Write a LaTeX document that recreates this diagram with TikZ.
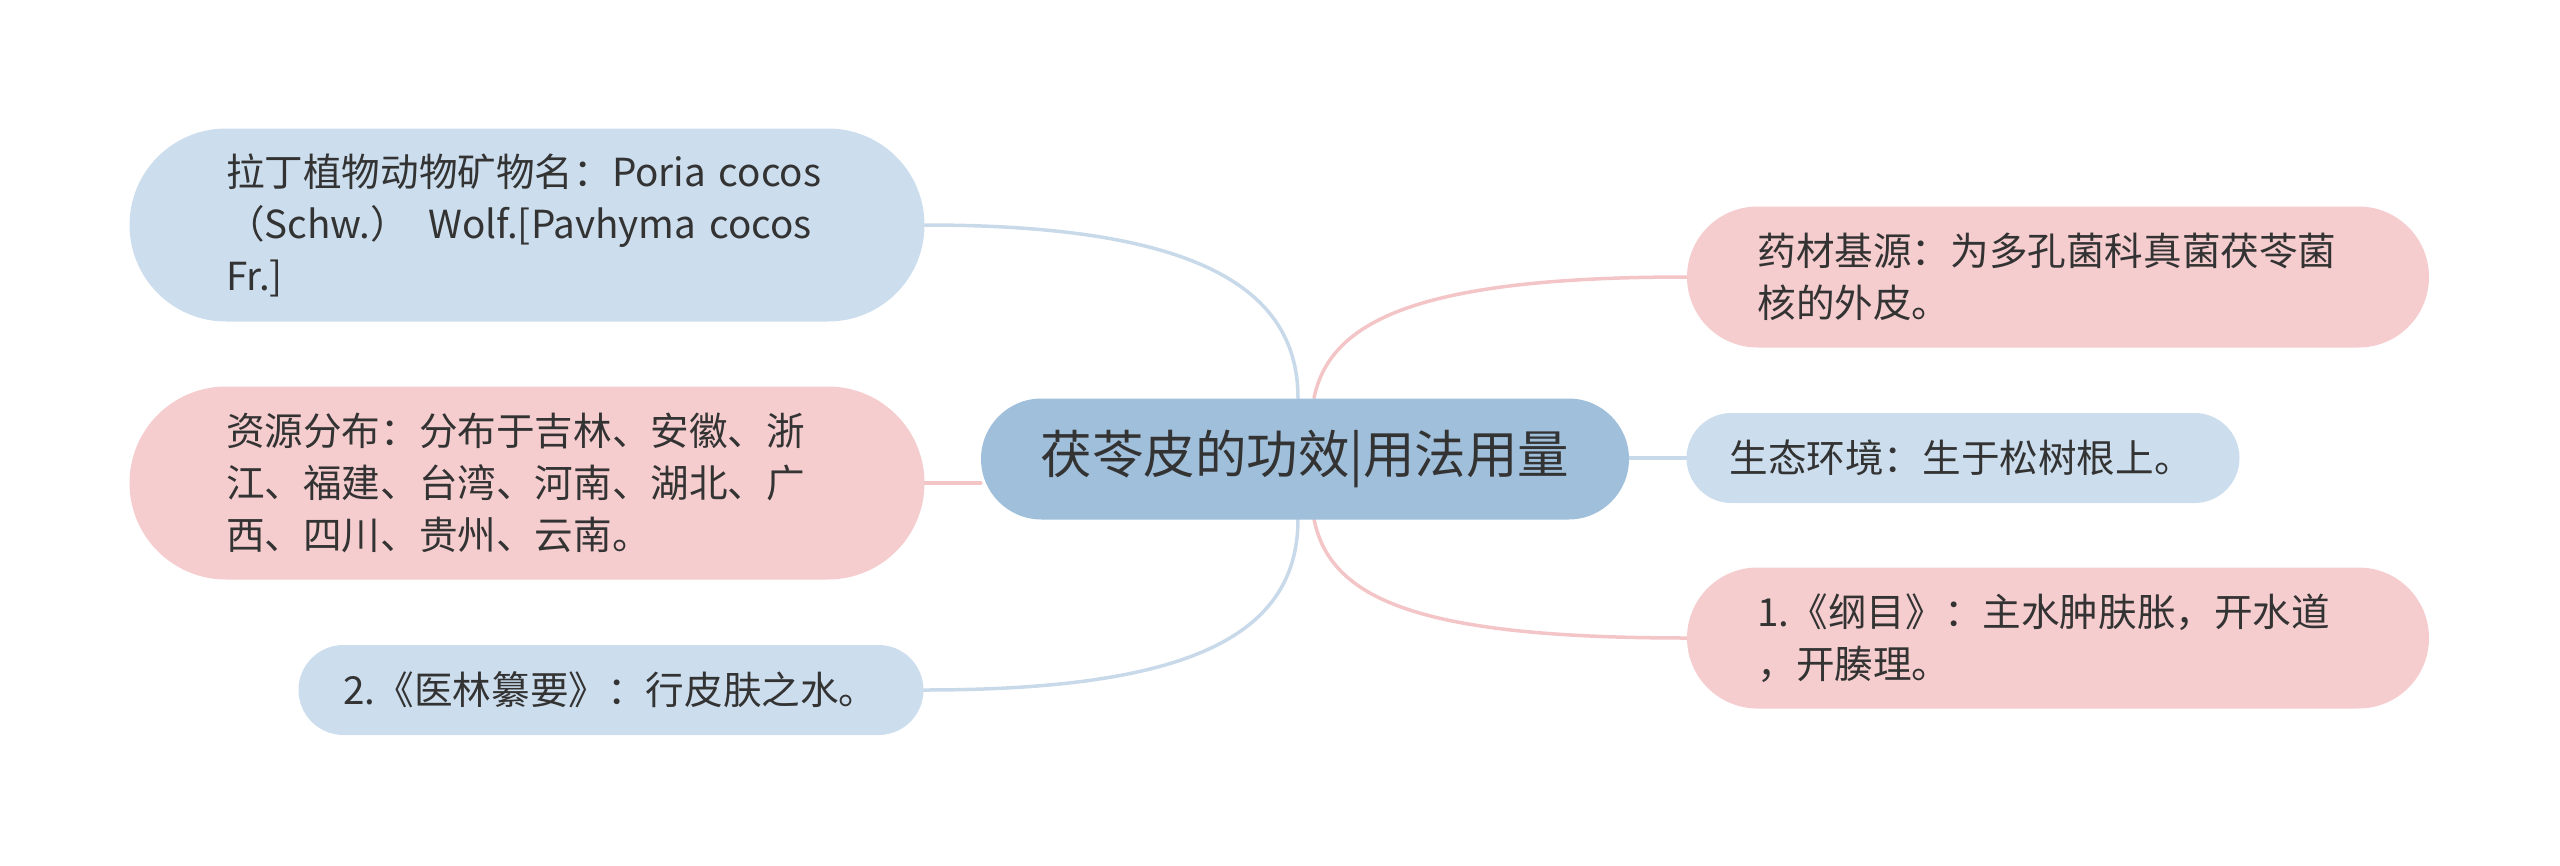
\documentclass[tikz,border=0pt]{standalone}
\usepackage{fontspec}
\setmainfont{Noto Sans CJK SC}
\usetikzlibrary{backgrounds}
\definecolor{bluefill}{HTML}{CCDDED}
\definecolor{pinkfill}{HTML}{F5CDCF}
\definecolor{centerfill}{HTML}{A0BFDB}
\definecolor{blueline}{HTML}{C8D9EA}
\definecolor{pinkline}{HTML}{F3C5C7}
\definecolor{txt}{HTML}{333333}
\tikzset{
  leaf/.style={text=txt, align=left, inner ysep=0pt, font=\fontsize{38.6}{52}\selectfont},
  bluebox/.style={leaf, fill=bluefill},
  pinkbox/.style={leaf, fill=pinkfill},
  conn/.style={line width=3.5pt, line cap=round},
}
\begin{document}
\begin{tikzpicture}[x=1pt,y=-1pt]
\useasboundingbox (0,0) rectangle (2560,865);
% center
\node[fill=centerfill, text=txt, rounded corners=60.5pt, minimum width=648pt, minimum height=121pt, inner sep=0pt,
  font=\fontsize{51.5}{60}\selectfont] (c) at (1305,459) {茯苓皮的功效|用法用量};
% left nodes
\node[bluebox, rounded corners=96.5pt, text width=602pt, inner xsep=96.5pt, minimum height=193pt] (lat) at (527,225)
  {拉丁植物动物矿物名：Poria cocos\\（Schw.） Wolf.[Pavhyma cocos\\Fr.]};
\node[pinkbox, rounded corners=96.5pt, text width=602pt, inner xsep=96.5pt, minimum height=193pt] (res) at (527,483)
  {资源分布：分布于吉林、安徽、浙\\江、福建、台湾、河南、湖北、广\\西、四川、贵州、云南。};
\node[bluebox, rounded corners=45pt, text width=535pt, inner xsep=45pt, minimum height=90pt] (yl) at (611,690)
  {2.《医林纂要》：行皮肤之水。};
% right nodes
\node[pinkbox, rounded corners=70.5pt, text width=601pt, inner xsep=70.5pt, minimum height=141pt] (yc) at (2058,277)
  {药材基源：为多孔菌科真菌茯苓菌\\核的外皮。};
\node[bluebox, rounded corners=45pt, text width=467pt, inner xsep=43pt, minimum height=90pt] (st) at (1963,458)
  {生态环境：生于松树根上。};
\node[pinkbox, rounded corners=70.5pt, text width=601pt, inner xsep=70.5pt, minimum height=141pt] (gm) at (2058,638)
  {1.《纲目》：主水肿肤胀，开水道\\，开腠理。};
% connectors
\begin{scope}[on background layer]
\coordinate (ctl) at (1298,398);
\coordinate (cbl) at (1298,519);
\coordinate (ctr) at (1314,398);
\coordinate (cbr) at (1314,519);
\draw[conn, blueline] (lat.east) .. controls (1180,225) and (1298,280) .. (ctl);
\draw[conn, pinkline] (res.east) -- (res.east -| c.west);
\draw[conn, blueline] (yl.east) .. controls (1180,690) and (1298,640) .. (cbl);
\draw[conn, pinkline] (ctr) .. controls (1330,320) and (1420,277) .. (yc.west);
\draw[conn, blueline] (c.east |- st.west) -- (st.west);
\draw[conn, pinkline] (cbr) .. controls (1330,600) and (1420,638) .. (gm.west);
\end{scope}
\end{tikzpicture}
\end{document}
